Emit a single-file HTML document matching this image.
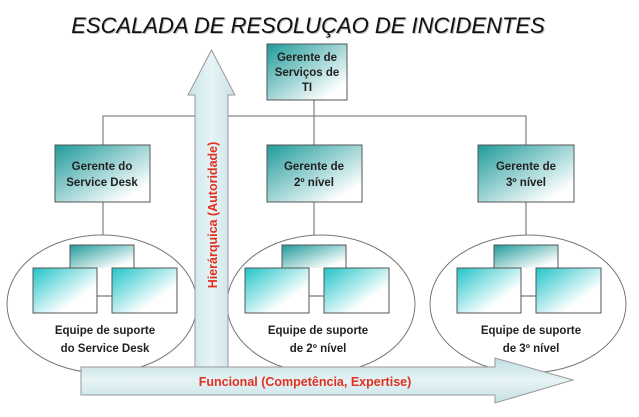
<!DOCTYPE html>
<html><head><meta charset="utf-8"><style>
body{margin:0;background:#fff;width:639px;height:412px;overflow:hidden;font-family:"Liberation Sans",sans-serif}
</style></head><body>
<svg width="639" height="412" viewBox="0 0 639 412" xmlns="http://www.w3.org/2000/svg">
<defs>
<linearGradient id="g" x1="0" y1="0" x2="1" y2="1"><stop offset="0" stop-color="#1f9a9a"/><stop offset="0.85" stop-color="#ffffff"/></linearGradient>
<linearGradient id="g2" x1="0" y1="0" x2="1" y2="1"><stop offset="0" stop-color="#20c4c8"/><stop offset="0.7" stop-color="#ffffff"/></linearGradient>
<linearGradient id="av" x1="0" y1="0" x2="1" y2="0"><stop offset="0" stop-color="#c8e4e8"/><stop offset="0.5" stop-color="#e8f4f6"/><stop offset="1" stop-color="#c8e2e6"/></linearGradient>
<linearGradient id="ah" x1="0" y1="0" x2="0" y2="1"><stop offset="0" stop-color="#c0dfe4"/><stop offset="0.5" stop-color="#e6f3f5"/><stop offset="1" stop-color="#c4e0e4"/></linearGradient>
</defs>
<text x="309" y="34" font-size="22" font-style="italic" text-anchor="middle" fill="#bbb">ESCALADA DE RESOLUÇAO DE INCIDENTES</text>
<text x="308" y="33" font-size="22" font-style="italic" text-anchor="middle" fill="#111">ESCALADA DE RESOLUÇAO DE INCIDENTES</text>
<g stroke="#888" stroke-width="1.3" fill="none">
<path d="M103 145V116H526V145M314 100V145M314 202V235M103 202V235M526 202V235"/>
</g>
<g fill="#fff" stroke="#777" stroke-width="1">
<ellipse cx="102" cy="304" rx="95" ry="69"/>
<ellipse cx="321" cy="304" rx="94" ry="69"/>
<ellipse cx="528" cy="304" rx="98" ry="69"/>
</g>
<g stroke="#555" stroke-width="1">
<rect x="267" y="44" width="80" height="56" fill="url(#g)"/>
<rect x="55" y="145" width="95" height="57" fill="url(#g)"/>
<rect x="267" y="145" width="95" height="57" fill="url(#g)"/>
<rect x="478" y="145" width="96" height="57" fill="url(#g)"/>
</g>
<g font-size="11.5" font-weight="bold" text-anchor="middle" fill="#222">
<text x="307" y="61">Gerente de</text><text x="307" y="76">Serviços de</text><text x="307" y="91">TI</text>
<text x="102" y="170">Gerente do</text><text x="102" y="186">Service Desk</text>
<text x="314" y="170">Gerente de</text><text x="314" y="186">2º nível</text>
<text x="526" y="170">Gerente de</text><text x="526" y="186">3º nível</text>
</g>
<g stroke="#555" stroke-width="1">
<g><path d="M70 268V245H134V268" fill="url(#g)"/><line x1="97" y1="296" x2="112" y2="296"/><rect x="33" y="268" width="64" height="45" fill="url(#g2)"/><rect x="112" y="268" width="65" height="45" fill="url(#g2)"/></g>
<g transform="translate(212,0)"><path d="M70 268V245H134V268" fill="url(#g)"/><line x1="97" y1="296" x2="112" y2="296"/><rect x="33" y="268" width="64" height="45" fill="url(#g2)"/><rect x="112" y="268" width="65" height="45" fill="url(#g2)"/></g>
<g transform="translate(424,0)"><path d="M70 268V245H134V268" fill="url(#g)"/><line x1="97" y1="296" x2="112" y2="296"/><rect x="33" y="268" width="64" height="45" fill="url(#g2)"/><rect x="112" y="268" width="65" height="45" fill="url(#g2)"/></g>
</g>
<g font-size="11.5" font-weight="bold" text-anchor="middle" fill="#222">
<text x="105" y="334">Equipe de suporte</text><text x="105" y="352">do Service Desk</text>
<text x="318" y="334">Equipe de suporte</text><text x="318" y="352">de 2º nível</text>
<text x="531" y="334">Equipe de suporte</text><text x="531" y="352">de 3º nível</text>
</g>
<path d="M195 367V95H188L211.5 50L235 95H228V367Z" fill="url(#av)" stroke="#999"/>
<text transform="translate(217,215) rotate(-90)" font-size="12.5" font-weight="bold" fill="#e03020" text-anchor="middle">Hierárquica (Autoridade)</text>
<path d="M81 367H495V358L573 380L495 403V395H81Z" fill="url(#ah)" stroke="#999"/>
<text x="305" y="386" font-size="12.5" font-weight="bold" fill="#e03020" text-anchor="middle">Funcional (Competência, Expertise)</text>
</svg>
</body></html>
